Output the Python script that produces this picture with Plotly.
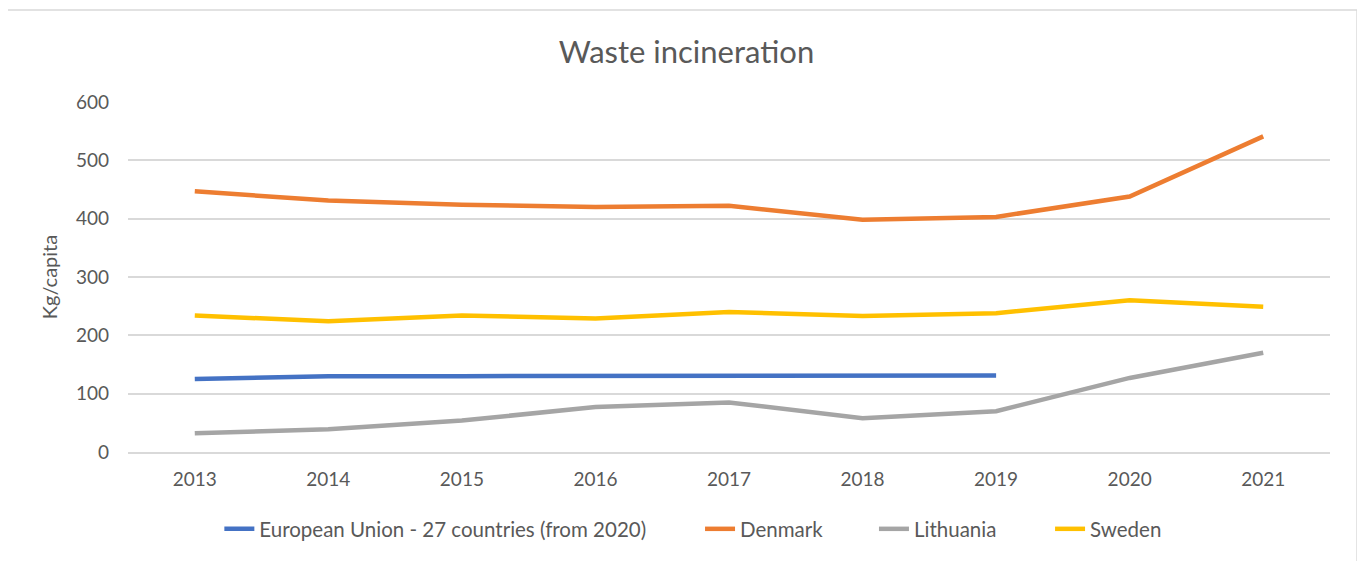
import plotly.graph_objects as go

years = ["2013", "2014", "2015", "2016", "2017", "2018", "2019", "2020", "2021"]
eu27 = [125, 130, 130, 130, 131, 131, 131, None, None]
denmark = [447, 431, 424, 420, 422, 398, 403, 438, 541]
lithuania = [32, 39, 54, 77, 85, 58, 70, 127, 170]
sweden = [234, 224, 234, 229, 240, 233, 238, 260, 249]

series = [
    ("European Union - 27 countries (from 2020)", eu27, "#4472C4"),
    ("Denmark", denmark, "#ED7D31"),
    ("Lithuania", lithuania, "#A5A5A5"),
    ("Sweden", sweden, "#FFC000"),
]

font = "Lato, Calibri, Carlito, sans-serif"
legend_ids = ["legend", "legend2", "legend3", "legend4"]
legend_x = [0.0760, 0.4759, 0.6206, 0.7671]

fig = go.Figure()
for (name, vals, col), lid in zip(series, legend_ids):
    fig.add_trace(go.Scatter(x=years, y=vals, name=name, mode="lines", legend=lid,
                             line=dict(color=col, width=4.5)))

layout_legends = {}
for lid, lx in zip(legend_ids, legend_x):
    layout_legends[lid] = dict(orientation="h", x=lx, xanchor="left", y=-0.22, yanchor="middle",
                               font=dict(family=font, size=20.5, color="#595959"), itemwidth=30,
                               bgcolor="rgba(0,0,0,0)")

fig.update_layout(
    width=1357, height=553,
    margin=dict(l=120, r=35, t=94, b=109),
    paper_bgcolor="white", plot_bgcolor="white",
    title=dict(text="Waste incineration", x=0.5, xanchor="center", y=0.92, yanchor="middle",
               font=dict(family=font, size=31, color="#595959")),
    font=dict(family=font, size=19, color="#595959"),
    showlegend=True,
    xaxis=dict(type="category", range=[-0.5, 8.5], showgrid=False, showline=True,
               linecolor="#D9D9D9", linewidth=1.5, ticks="", tickfont=dict(size=19, color="#595959"),
               ticklabelstandoff=9, fixedrange=True),
    yaxis=dict(range=[0, 600], dtick=100, showgrid=True, gridcolor="#D9D9D9", gridwidth=1.5,
               zeroline=False, showline=False, ticks="", tickfont=dict(size=19, color="#595959"),
               ticklabelstandoff=18,
               title=dict(text="Kg/capita", font=dict(size=20, color="#595959"), standoff=12),
               fixedrange=True),
    shapes=[dict(type="rect", xref="paper", yref="paper", x0=-0.1007, x1=1.0225, y0=-0.35, y1=1.263,
                 line=dict(color="#D9D9D9", width=1.5), fillcolor="rgba(0,0,0,0)", layer="below")],
    **layout_legends,
)

fig.write_html("out.html")
